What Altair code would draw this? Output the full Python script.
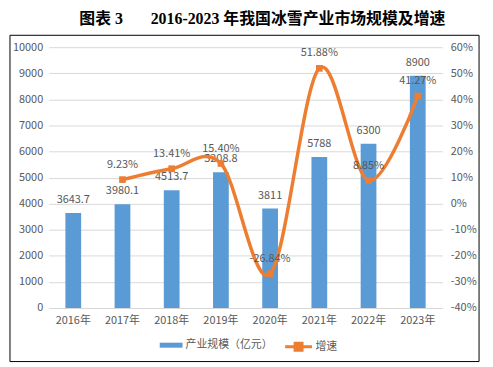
import altair as alt
import pandas as pd

years = ["2016年", "2017年", "2018年", "2019年", "2020年", "2021年", "2022年", "2023年"]
scale_values = [3643.7, 3980.1, 4513.7, 5208.8, 3811, 5788, 6300, 8900]
growth_values = [None, 9.23, 13.41, 15.40, -26.84, 51.88, 8.85, 41.27]
left_ticks = [0, 1000, 2000, 3000, 4000, 5000, 6000, 7000, 8000, 9000, 10000]
right_ticks = [-40, -30, -20, -10, 0, 10, 20, 30, 40, 50, 60]
series_bar = "产业规模（亿元）"
series_line = "增速"

df = pd.DataFrame({"year": years, "size": scale_values, "growth": growth_values,
                   "s_bar": [series_bar] * len(years), "s_line": [series_line] * len(years)})

BLUE = "#5B9BD5"
ORANGE = "#ED7D31"
GRAY = "#595959"
GRID = "#D9D9D9"
FONT = "Noto Sans CJK SC"

x = alt.X(
    "year:N", sort=years,
    scale=alt.Scale(paddingInner=0.68, paddingOuter=0.34),
    axis=alt.Axis(title=None, labelAngle=0, ticks=False, domainColor=GRID,
                  labelPadding=7, labelColor=GRAY, labelFontSize=11, labelFont=FONT),
)

y_left = alt.Y(
    "size:Q",
    scale=alt.Scale(domain=[0, 10000], nice=False),
    axis=alt.Axis(title=None, orient="left", values=left_ticks, format="d", ticks=False,
                  domain=False, gridColor=GRID, labelPadding=6, labelColor=GRAY,
                  labelFontSize=11, labelFont=FONT),
)

y_right = alt.Y(
    "growth:Q",
    scale=alt.Scale(domain=[-40, 60], nice=False),
    axis=alt.Axis(title=None, orient="right", values=right_ticks, grid=False, ticks=False,
                  domain=False, labelPadding=8, labelColor=GRAY, labelFontSize=11,
                  labelFont=FONT,
                  labelExpr="replace(format(datum.value, 'd'), '\u2212', '-') + '%'"),
)

bar_color = alt.Color(
    "s_bar:N",
    scale=alt.Scale(domain=[series_bar], range=[BLUE]),
    legend=alt.Legend(title=None, orient="none", legendX=112, legendY=289,
                      symbolType="M-1,-0.22H1V0.22H-1Z", symbolSize=529,
                      symbolStrokeWidth=0, labelFontSize=11, labelColor=GRAY,
                      labelFont=FONT, labelOffset=3, padding=0),
)

line_legend = alt.Legend(title=None, orient="none", legendX=237, legendY=287,
                         symbolType="M-1,0H1M-0.26,-0.26H0.26V0.26H-0.26Z",
                         symbolSize=729, symbolStrokeWidth=3,
                         symbolStrokeColor=ORANGE, symbolFillColor=ORANGE,
                         labelFontSize=11, labelColor=GRAY, labelFont=FONT,
                         labelOffset=2, padding=0)
line_color = alt.Color(
    "s_line:N",
    scale=alt.Scale(domain=[series_line], range=[ORANGE]),
    legend=line_legend,
)

frame = alt.Chart(alt.Data(values=[{}])).mark_rect(
    fillOpacity=0, stroke="black", strokeWidth=1
).encode(x=alt.value(-39), x2=alt.value(434), y=alt.value(-12), y2=alt.value(317))

bars = alt.Chart(df).mark_bar().encode(x=x, y=y_left, color=bar_color)

bar_text = alt.Chart(df).transform_calculate(
    lbl="'' + datum.size"
).mark_text(dy=-13, color=GRAY, fontSize=11, font=FONT).encode(
    x=x, y=y_left, text="lbl:N"
)

base_r = alt.Chart(df).transform_filter("isValid(datum.growth)")

line = base_r.mark_line(interpolate="cardinal", strokeWidth=3.5).encode(
    x=x, y=y_right, color=line_color
)
points = base_r.mark_point(shape="square", filled=True, size=45, opacity=1).encode(
    x=x, y=y_right, color=line_color
)
growth_text = base_r.transform_calculate(
    lbl="replace(format(datum.growth, '.2f'), '\u2212', '-') + '%'"
).mark_text(dy=-15, color=GRAY, fontSize=11, font=FONT).encode(
    x=x, y=y_right, text="lbl:N"
)

left = alt.layer(frame, bars, bar_text)
right = alt.layer(line, points, growth_text)

chart = alt.layer(left, right).resolve_scale(
    y="independent", color="independent"
).properties(
    width=397, height=263,
    title=alt.TitleParams(
        text="图表 3\u3000\u2002 2016-2023 年我国冰雪产业市场规模及增速",
        font="Liberation Serif, Noto Sans CJK SC", fontSize=16, fontWeight="bold",
        color="black", anchor="middle", dx=17, offset=8,
    ),
    padding={"left": 1, "top": 1, "right": 5, "bottom": 5},
    background="white",
).configure_view(stroke=None)

chart.save("out.html", embed_options={"renderer": "svg", "actions": False})
